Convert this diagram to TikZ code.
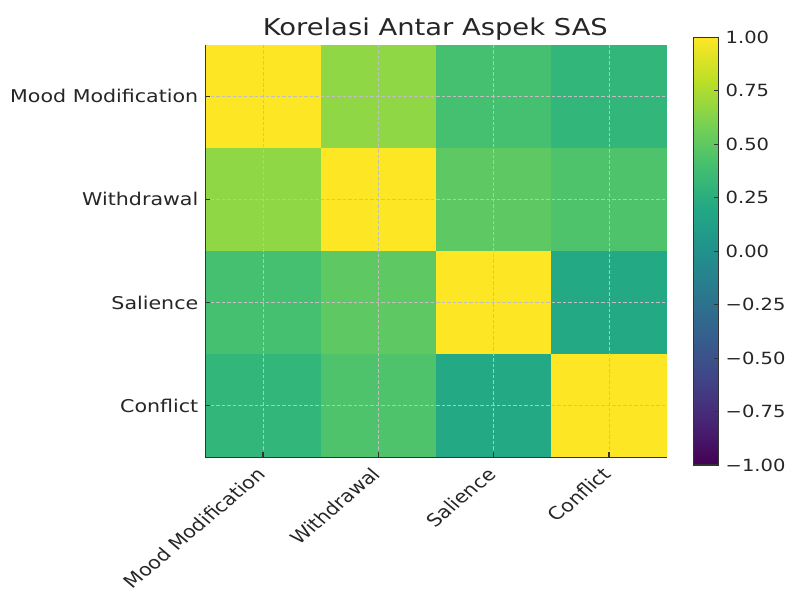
\documentclass[tikz,border=0pt]{standalone}
\usepackage{fontspec}
\setmainfont{DejaVu Sans}
\definecolor{vyel}{HTML}{FDE725}
\definecolor{c01}{HTML}{8FD744}
\definecolor{c02}{HTML}{45BF70}
\definecolor{c03}{HTML}{33B67A}
\definecolor{c12}{HTML}{5EC962}
\definecolor{c13}{HTML}{4EC36B}
\definecolor{c23}{HTML}{23A983}
\definecolor{tcol}{HTML}{262626}
\definecolor{v0}{HTML}{440154}
\definecolor{v1}{HTML}{482475}
\definecolor{v2}{HTML}{414487}
\definecolor{v3}{HTML}{355F8D}
\definecolor{v4}{HTML}{2A788E}
\definecolor{v5}{HTML}{21918C}
\definecolor{v6}{HTML}{22A884}
\definecolor{v7}{HTML}{44BF70}
\definecolor{v8}{HTML}{7AD151}
\definecolor{v9}{HTML}{BDDF26}
\definecolor{v10}{HTML}{FDE725}
\pgfdeclareverticalshading{viridis}{100bp}{color(0bp)=(v0); color(25bp)=(v0); color(30bp)=(v1); color(35bp)=(v2); color(40bp)=(v3); color(45bp)=(v4); color(50bp)=(v5); color(55bp)=(v6); color(60bp)=(v7); color(65bp)=(v8); color(70bp)=(v9); color(75bp)=(v10); color(100bp)=(v10)}
\begin{document}
\begin{tikzpicture}[x=1pt,y=-1pt,
  ticklab/.style={font=\fontsize{17.6}{21}\selectfont, text=tcol, inner sep=0pt},
  cblab/.style={font=\fontsize{16.8}{20}\selectfont, text=tcol, inner sep=0pt},
  titlelab/.style={font=\fontsize{23.2}{28}\selectfont, text=tcol, inner sep=0pt},
  gridln/.style={draw=gray!50, line width=0.8pt, dash pattern=on 3.5pt off 2pt},
  spine/.style={draw=black!80, line width=1.4pt},
  tickln/.style={draw=black!80, line width=1.1pt}]
\fill[white] (0,0) rectangle (787,590);
\useasboundingbox (0,0) rectangle (787,590);
% heatmap cells
\foreach \r/\c/\col in {0/0/vyel,0/1/c01,0/2/c02,0/3/c03,
                        1/0/c01,1/1/vyel,1/2/c12,1/3/c13,
                        2/0/c02,2/1/c12,2/2/vyel,2/3/c23,
                        3/0/c03,3/1/c13,3/2/c23,3/3/vyel}
  \fill[\col] ({205.3+115.35*\c},{44.7+103.15*\r}) rectangle ++(115.35,103.15);
% grid
\foreach \k in {0,...,3} {
  \draw[gridln] ({262.97+115.35*\k},44.7) -- ++(0,412.6);
  \draw[gridln] (205.3,{96.28+103.15*\k}) -- ++(461.4,0);
}
% spines and ticks
\draw[spine] (205.3,44.7) -- (205.3,457.3) -- (666.7,457.3);
\foreach \k in {0,...,3} {
  \draw[tickln] ({262.97+115.35*\k},457.3) -- ++(0,-5);
  \draw[tickln] (205.3,{96.28+103.15*\k}) -- ++(5,0);
}
% anchor points for labels
\coordinate (pym) at (198.5,96.28);
\coordinate (pyw) at (198.5,199.43);
\coordinate (pys) at (198.5,302.58);
\coordinate (pyc) at (198.5,405.73);
\coordinate (pxm) at (255.5,466);
\coordinate (pxw) at (370.8,466);
\coordinate (pxs) at (486.2,466);
\coordinate (pxc) at (601.5,466);
\coordinate (ptitle) at (435.3,35);
% y labels
\node[ticklab, anchor=east, xscale=1.17] (ym) at (pym) {Mood Modification};
\node[ticklab, anchor=east, xscale=1.17] (yw) at (pyw) {Withdrawal};
\node[ticklab, anchor=east, xscale=1.17] (ys) at (pys) {Salience};
\node[ticklab, anchor=east, xscale=1.17] (yc) at (pyc) {Conflict};
% x labels
\node[ticklab, anchor=north east, xscale=1.18, rotate=45] (xm) at (pxm) {Mood Modification};
\node[ticklab, anchor=north east, xscale=1.18, rotate=45] (xw) at (pxw) {Withdrawal};
\node[ticklab, anchor=north east, xscale=1.18, rotate=45] (xs) at (pxs) {Salience};
\node[ticklab, anchor=north east, xscale=1.18, rotate=45] (xc) at (pxc) {Conflict};
% title
\node[titlelab, anchor=base, xscale=1.18] (title) at (ptitle) {Korelasi Antar Aspek SAS};
% colorbar
\shade[shading=viridis] (693.3,37.3) rectangle (718.7,465);
\foreach \i/\lab in {0/1.00,1/0.75,2/0.50,3/0.25,4/0.00,5/−0.25,6/−0.50,7/−0.75,8/−1.00} {
  \draw[tickln] (718.7,{37.3+53.46*\i}) -- ++(-5,0);
  \coordinate (pcb\i) at (725.5,{37.3+53.46*\i});
  \node[cblab, anchor=west, xscale=1.16] (cb\i) at (pcb\i) {\lab};
}
\draw[tickln] (693.3,37.3) rectangle (718.7,465);
\end{tikzpicture}
\end{document}
